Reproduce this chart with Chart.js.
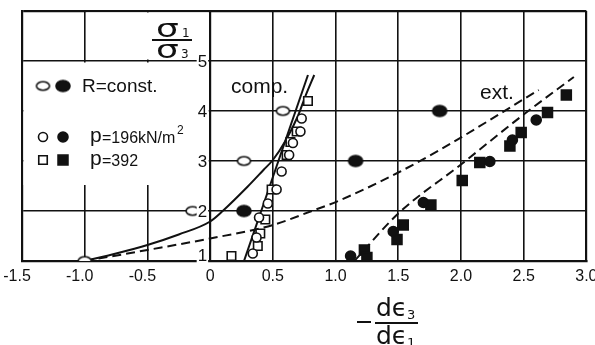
<!DOCTYPE html>
<html>
<head>
<meta charset="utf-8">
<script src="https://cdn.jsdelivr.net/npm/chart.js@4.4.1/dist/chart.umd.min.js"></script>
<style>
  html, body { margin: 0; padding: 0; background: #fff; }
  canvas { display: block; }
</style>
</head>
<body>
<canvas id="chart" width="595" height="345"></canvas>
<script>
var ctx = document.getElementById('chart').getContext('2d')

// tick values and their printed labels
const xTicks = [-1.5, -1.0, -0.5, 0, 0.5, 1.0, 1.5, 2.0, 2.5, 3.0]
const xTickLabels = ['-1.5', '-1.0', '-0.5', '0', '0.5', '1.0', '1.5', '2.0', '2.5', '3.0']
const yTicks = [1, 2, 3, 4, 5]

// R = const. tests, open = compression, filled = extension
const rConstComp = [[-1.0, 1], [-0.14, 2], [0.27, 3], [0.58, 4]]
const rConstExt = [[0.27, 2], [1.16, 3], [1.83, 4]]

// p = 196 kN/m2 (circles)
const p196Comp = [[0.34, 1.15], [0.37, 1.47], [0.39, 1.87], [0.46, 2.15], [0.53, 2.43],
  [0.57, 2.79], [0.63, 3.12], [0.66, 3.36], [0.72, 3.59], [0.73, 3.85]]
const p196Ext = [[1.12, 1.1], [1.46, 1.59], [1.70, 2.17], [2.23, 2.99], [2.41, 3.42], [2.60, 3.82]]

// p = 392 kN/m2 (squares)
const p392Comp = [[0.17, 1.1], [0.38, 1.3], [0.40, 1.55], [0.44, 1.83], [0.49, 2.43],
  [0.61, 3.12], [0.64, 3.38], [0.69, 3.59], [0.78, 4.2]]
const p392Ext = [[1.23, 1.22], [1.25, 1.07], [1.49, 1.43], [1.54, 1.72], [1.76, 2.12],
  [2.01, 2.61], [2.15, 2.97], [2.39, 3.30], [2.48, 3.57], [2.69, 3.97], [2.84, 4.32]]

// theory curves
const compCurve = [[-1.0, 1], [-0.75, 1.15], [-0.5, 1.32], [-0.25, 1.53], [0, 1.79], [0.1, 2.0],
  [0.3, 2.49], [0.425, 2.82], [0.5, 3.02], [0.6, 3.4], [0.7, 3.9], [0.76, 4.3], [0.83, 4.72]]
const compLine = [[0.27, 1], [0.78, 4.72]]
const extUpper = [[-1.0, 1], [-0.5, 1.22], [0, 1.45], [0.5, 1.72], [0.8, 1.99], [1.04, 2.22],
  [1.5, 2.77], [1.83, 3.22], [2.62, 4.42]]
const extLower = [[1.15, 1], [1.5, 1.95], [2.0, 2.93], [2.5, 3.93], [2.9, 4.68]]

const ink = '#111'
const pts = (arr) => arr.map((p) => ({ x: p[0], y: p[1] }))

function ellipseMark(rx, ry, filled) {
  const c = document.createElement('canvas')
  c.width = Math.ceil(rx * 2 + 4)
  c.height = Math.ceil(ry * 2 + 4)
  const g = c.getContext('2d')
  g.beginPath()
  g.ellipse(c.width / 2, c.height / 2, rx, ry, 0, 0, Math.PI * 2)
  g.fillStyle = filled ? ink : '#fff'
  g.fill()
  g.lineWidth = 1.6
  g.strokeStyle = ink
  g.stroke()
  return c
}
const openEllipse = ellipseMark(6.5, 4.2, false)
const filledEllipse = ellipseMark(7, 5.5, true)

function markers(data, style, radius, filled) {
  return {
    data: pts(data),
    showLine: false,
    pointStyle: style,
    pointRadius: radius,
    pointBorderWidth: 1.6,
    pointBorderColor: ink,
    pointBackgroundColor: filled ? ink : '#fff',
  }
}

function curve(data, dashed) {
  return {
    data: pts(data),
    showLine: true,
    pointRadius: 0,
    borderColor: ink,
    borderWidth: 2,
    borderDash: dashed ? [9, 5] : [],
    cubicInterpolationMode: 'monotone',
    fill: false,
  }
}

const decor = {
  id: 'decor',
  beforeDatasetsDraw(chart) {
    const xs = chart.scales.x, ys = chart.scales.y
    const X = (v) => xs.getPixelForValue(v), Y = (v) => ys.getPixelForValue(v)
    const c = chart.ctx
    c.save()
    c.fillStyle = '#fff'
    // legend panel and title corner
    c.fillRect(X(-1.5) + 1.5, Y(5) + 1.5, X(0) - X(-1.5) - 3, Y(2.52) - Y(5) - 1.5)
    c.fillRect(X(-1.0) + 1.5, Y(6) + 1.5, X(0) - X(-1.0) - 3, Y(5) - Y(6) - 3)
    c.restore()
  },
  afterDatasetsDraw(chart) {
    const xs = chart.scales.x, ys = chart.scales.y
    const X = (v) => xs.getPixelForValue(v), Y = (v) => ys.getPixelForValue(v)
    const c = chart.ctx
    c.save()
    c.fillStyle = ink

    // y tick labels sit just left of the zero line
    c.font = '17px "Liberation Sans", Arial, sans-serif'
    c.textAlign = 'right'
    c.textBaseline = 'middle'
    yTicks.forEach((v) => {
      const w = c.measureText(String(v)).width
      const yy = v === 1 ? Y(v) - 5 : Y(v) + 1
      c.fillStyle = '#fff'
      c.fillRect(X(0) - 3 - w - 1, yy - 7, w + 2, 14)
      c.fillStyle = ink
      c.fillText(String(v), X(0) - 3, yy)
    })

    // x tick labels under the axis
    c.font = '16px "Liberation Sans", Arial, sans-serif'
    c.textAlign = 'center'
    c.textBaseline = 'alphabetic'
    xTicks.forEach((v, i) => {
      c.fillText(xTickLabels[i], X(v) - (v < 0 ? 5 : 0), 281)
    })

    // sigma1 / sigma3
    c.font = '24px "DejaVu Sans", sans-serif'
    c.textAlign = 'left'
    c.save(); c.translate(156, 37); c.scale(1.5, 1); c.fillText('σ', 0, 0); c.restore()
    c.save(); c.translate(156, 58); c.scale(1.5, 1); c.fillText('σ', 0, 0); c.restore()
    c.font = '12px "DejaVu Sans", sans-serif'
    c.fillText('1', 182, 37)
    c.fillText('3', 181, 58)
    c.fillRect(152, 39, 40, 2)

    // -d eps3 / d eps1
    c.fillRect(357, 321, 14, 2)
    c.fillRect(375, 322, 43, 2)
    c.font = '25px "DejaVu Sans", sans-serif'
    c.fillText('dϵ', 376, 316)
    c.fillText('dϵ', 376, 344)
    c.font = '13px "DejaVu Sans", sans-serif'
    c.fillText('3', 407, 319)
    c.fillText('1', 407, 347)

    // curve labels
    c.font = '21px "Liberation Sans", Arial, sans-serif'
    c.fillText('comp.', 231, 93)
    c.fillText('ext.', 480, 99)

    // legend
    const H = Chart.helpers
    const sym = (style, r, x, y) => {
      H.drawPoint(c, { pointStyle: style, radius: r, rotation: 0, borderWidth: 1.6 }, x, y)
    }
    c.strokeStyle = ink
    c.lineWidth = 1.6
    c.drawImage(openEllipse, 43 - openEllipse.width / 2, 86 - openEllipse.height / 2)
    c.drawImage(filledEllipse, 63 - filledEllipse.width / 2, 86 - filledEllipse.height / 2)
    c.fillStyle = '#fff'
    sym('circle', 4.5, 43, 137)
    c.fillStyle = ink
    sym('circle', 5, 63, 137)
    c.fillStyle = '#fff'
    sym('rect', 6, 43, 160)
    c.fillStyle = ink
    sym('rect', 7, 63, 160)

    c.textBaseline = 'middle'
    c.font = '19px "Liberation Sans", Arial, sans-serif'
    c.fillText('R=const.', 82, 87)
    c.font = '21px "Liberation Sans", Arial, sans-serif'
    c.fillText('p', 90, 136)
    c.fillText('p', 90, 159)
    c.font = '16px "Liberation Sans", Arial, sans-serif'
    c.fillText('=196kN/m', 102, 139)
    c.fillText('=392', 102, 162)
    c.font = '12px "Liberation Sans", Arial, sans-serif'
    c.fillText('2', 177, 131)
    c.restore()
  },
}

const chart = new Chart(ctx, {
  type: 'scatter',
  data: {
    datasets: [
      markers(rConstComp, openEllipse, 6, false),
      markers(rConstExt, filledEllipse, 6, true),
      markers(p196Comp, 'circle', 4.5, false),
      markers(p392Comp, 'rect', 6, false),
      markers(p196Ext, 'circle', 5, true),
      markers(p392Ext, 'rect', 7, true),
      curve(compCurve, false),
      curve(compLine, false),
      curve(extUpper, true),
      curve(extLower, true),
    ],
  },
  plugins: [decor],
  options: {
    responsive: false,
    animation: false,
    layout: { padding: { left: 22, right: 8, top: 11, bottom: 84 } },
    plugins: { legend: { display: false }, tooltip: { enabled: false } },
    scales: {
      x: {
        type: 'linear',
        min: -1.5,
        max: 3.0,
        ticks: { stepSize: 0.5, display: false },
        grid: {
          color: ink,
          drawTicks: false,
          lineWidth: (c) => (c.tick && (c.tick.value === 0 || c.tick.value === 3) ? 2.2 : 1.6),
        },
        border: { color: ink, width: 2.2 },
      },
      y: {
        min: 1,
        max: 6,
        ticks: { stepSize: 1, display: false },
        grid: {
          color: ink,
          drawTicks: false,
          lineWidth: (c) => (c.tick && c.tick.value === 6 ? 2.2 : 1.6),
        },
        border: { color: ink, width: 2.2 },
      },
    },
  },
})
</script>
</body>
</html>
